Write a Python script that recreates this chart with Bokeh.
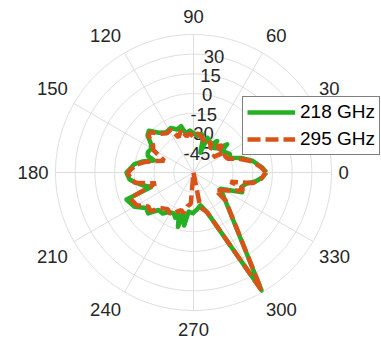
import numpy as np
from bokeh.plotting import figure
from bokeh.models import Legend, LegendItem
from bokeh.embed import file_html
from bokeh.resources import INLINE
from bokeh.core.properties import value

# ---------------- data ----------------
angle_ticks = [0, 30, 60, 90, 120, 150, 180, 210, 240, 270, 300, 330]
angle_tick_labels = ["0", "30", "60", "90", "120", "150", "180", "210", "240", "270", "300", "330"]
r_ticks = [-45, -30, -15, 0, 15, 30]
r_tick_labels = ["-45", "-30", "-15", "0", "15", "30"]
r_limits = [-60, 45]

series_names = ["218 GHz", "295 GHz"]

ang_218 = [0, 4, 11, 17, 22, 27, 32, 37, 40, 45, 51, 53, 58, 63, 68, 71, 74, 78, 84, 90,
           95, 101, 105, 111, 117, 124, 131, 137, 141, 146, 151, 156, 160, 163, 168, 172,
           180, 186, 189, 194, 199, 202, 210, 217, 222, 227, 233, 238, 244, 248, 251, 254,
           256, 260, 263, 269, 276, 282, 289, 300, 329, 338, 343, 348, 352, 356, 360]
db_218 = [-4.5, -7.5, -14, -22, -30, -29, -31, -33, -26.5, -34, -36, -30, -35, -33, -31.5, -44, -35, -30, -32, -30,
          -28, -30, -23.5, -25, -22, -23, -20, -13.5, -15, -21, -23, -22, -23, -28.5, -20, -14.5,
          -9, -11, -14, -20, -26, -5, -8, -15, -13.5, -21, -21, -24.5, -25.5, -23, -26, -17,
          -27, -19, -30, -29, -32, -34.5, -27.7, 43.5, -36, -20, -22, -19, -12, -7.5, -4.5]

ang_295 = [0, 4, 11, 17, 22, 27, 33, 38, 43, 50, 55, 60, 66, 72, 77, 85, 90, 95, 101, 106,
           113, 118, 124, 131, 137, 141, 146, 151, 158, 163, 168, 172, 180, 186, 190, 196,
           202, 210, 217, 222, 227, 235, 240, 246, 252, 256, 260, 265, 271, 281, 289, 300,
           319, 321, 339, 342, 346, 350, 355, 360]
db_295 = [-5, -8, -15, -24, -32, -33, -31, -41, -30, -34, -38, -33, -37, -35, -32, -30, -33, -30, -32, -26,
          -31, -23, -24, -21, -15, -16, -23, -25, -36, -30, -22, -16, -10, -12, -15, -30,
          -8, -10, -17, -16, -23, -26, -24, -27, -30, -28, -34, -36, -60, -33, -28, 43.5,
          -27.7, -38.5, -21.5, -20, -31, -14, -8, -5]

# ---------------- geometry ----------------
R = 138.0  # outer radius in screen px (1 data unit == 1 px)


def to_r(db):
    db = np.clip(np.asarray(db, dtype=float), r_limits[0], r_limits[1])
    return (db - r_limits[0]) * R / (r_limits[1] - r_limits[0])


def to_xy(ang, db):
    t = np.deg2rad(np.asarray(ang, dtype=float))
    r = to_r(db)
    return r * np.cos(t), r * np.sin(t)


W, H = 381, 339
CX, CY = 193, 172
p = figure(width=W, height=H, x_range=(-CX, W - CX), y_range=(CY - H, CY),
           output_backend="svg", toolbar_location=None, min_border=0)
p.axis.visible = False
p.grid.visible = False
p.outline_line_color = None
p.background_fill_color = "white"
p.border_fill_color = "white"

grid_col = "#dedede"
# rings
tt = np.linspace(0, 2 * np.pi, 361)
ring_vals = r_ticks + [r_limits[1]]
ring_xs = [list(to_r(v) * np.cos(tt)) for v in ring_vals]
ring_ys = [list(to_r(v) * np.sin(tt)) for v in ring_vals]
p.multi_line(ring_xs, ring_ys, line_color=grid_col, line_width=1)
# spokes
sp_xs = [[0, R * np.cos(np.deg2rad(a))] for a in angle_ticks]
sp_ys = [[0, R * np.sin(np.deg2rad(a))] for a in angle_ticks]
p.multi_line(sp_xs, sp_ys, line_color=grid_col, line_width=1)

font = value("Liberation Sans")
fs = "18.5px"
tick_col = "#262626"

# radial tick labels along 80 deg
rt = np.deg2rad(80)
rr = to_r(r_ticks)
p.text(x=list(rr * np.cos(rt)), y=list(rr * np.sin(rt)), text=r_tick_labels,
       text_align="center", text_baseline="middle", text_font=font,
       text_font_size=fs, text_color=tick_col)

# angle labels: anchored just outside the outer ring, aligned away from it
digit_w = 10.3
Ra = R + 7
hh = 11.5
lx, ly = [], []
for a, lab in zip(angle_ticks, angle_tick_labels):
    t = np.deg2rad(a)
    c, s = np.cos(t), np.sin(t)
    sx = 0 if abs(c) < 0.01 else np.sign(c)
    sy = 0 if abs(s) < 0.01 else np.sign(s)
    lx.append(Ra * c + sx * len(lab) * digit_w / 2)
    ly.append(Ra * s + sy * hh)
p.text(x=lx, y=ly, text=angle_tick_labels, text_align="center", text_baseline="middle",
       text_font=font, text_font_size=fs, text_color=tick_col)

# series
x1, y1 = to_xy(ang_218, db_218)
x2, y2 = to_xy(ang_295, db_295)
green = "#23b023"
orange = "#d95319"
r1 = p.line(x1, y1, line_color=green, line_width=4.5, line_join="round")
r2 = p.line(x2, y2, line_color=orange, line_width=4.5, line_dash="13 5")

legend = Legend(items=[LegendItem(label=series_names[0], renderers=[r1]),
                       LegendItem(label=series_names[1], renderers=[r2])],
                location=(242, 184), margin=0, padding=4, spacing=5,
                glyph_width=48, glyph_height=20, label_height=20, label_standoff=5,
                label_text_font="Liberation Sans", label_text_font_size="19px", label_text_color="black",
                border_line_color="black", border_line_width=1,
                background_fill_color="white", background_fill_alpha=1.0)
p.add_layout(legend, "center")

open("out.html", "w").write(file_html(p, INLINE))
